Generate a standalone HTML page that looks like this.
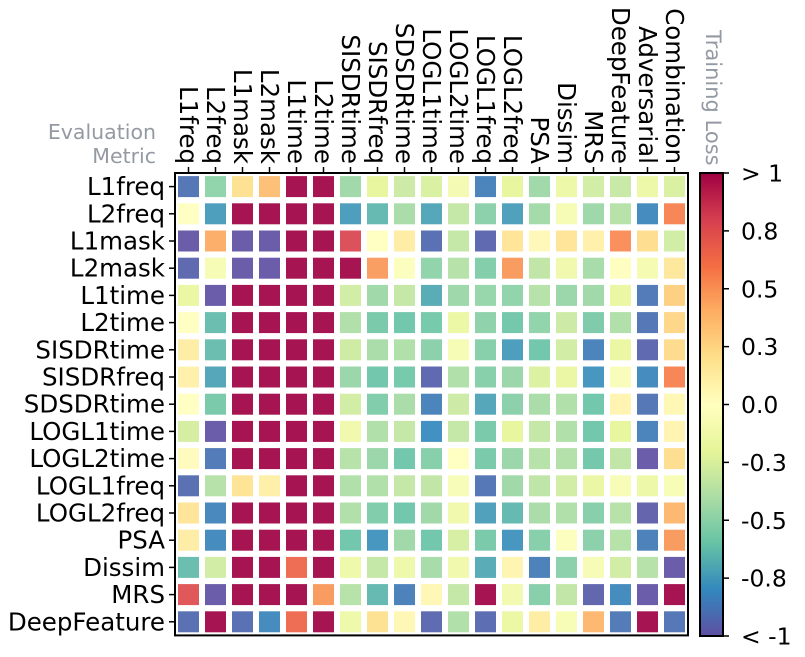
<!DOCTYPE html>
<html><head><meta charset="utf-8"><style>
body{margin:0;background:#fff;}
svg{display:block;font-family:"DejaVu Sans","Liberation Sans",sans-serif;}
</style></head><body>
<svg id="chart" width="805" height="657" viewBox="0 0 805 657" xmlns="http://www.w3.org/2000/svg">
<defs><linearGradient id="cbgrad" x1="0" y1="1" x2="0" y2="0"></linearGradient></defs>
<g id="cells"></g>
<g id="axes"></g>
<text x="156" y="139" text-anchor="end" font-size="20.5" fill="#949aa4">Evaluation</text>
<text x="156" y="163" text-anchor="end" font-size="20.5" fill="#949aa4">Metric</text>
<text transform="translate(706,30) rotate(90)" font-size="21" fill="#949aa4">Training Loss</text>
</svg>
<script>
const rowLabels = ["L1freq","L2freq","L1mask","L2mask","L1time","L2time","SISDRtime","SISDRfreq","SDSDRtime","LOGL1time","LOGL2time","LOGL1freq","LOGL2freq","PSA","Dissim","MRS","DeepFeature"];
const colLabels = ["L1freq","L2freq","L1mask","L2mask","L1time","L2time","SISDRtime","SISDRfreq","SDSDRtime","LOGL1time","LOGL2time","LOGL1freq","LOGL2freq","PSA","Dissim","MRS","DeepFeature","Adversarial","Combination"];
const cbTickLabels = ["> 1","0.8","0.5","0.3","0.0","-0.3","-0.5","-0.8","< -1"];
const cbTickValues = [1,0.75,0.5,0.25,0,-0.25,-0.5,-0.75,-1];
const values = [
[-0.9,-0.5,0.2,0.35,1,1,-0.45,-0.2,-0.3,-0.25,-0.1,-0.85,-0.2,-0.45,-0.15,-0.28,-0.32,-0.15,-0.25],
[0,-0.75,1,1,1,1,-0.75,-0.65,-0.42,-0.72,-0.33,-0.52,-0.74,-0.44,-0.08,-0.46,-0.38,-0.82,0.55],
[-1,0.42,-1,-1,1,1,0.78,0,0.12,-0.92,-0.33,-0.95,0.18,0.05,0.18,0.1,0.52,0.22,-0.28],
[-0.95,-0.08,-1,-1,1,1,1,0.47,-0.03,-0.5,-0.38,-0.54,0.48,-0.34,-0.12,-0.43,-0.02,-0.09,0.16],
[-0.18,-1,1,1,1,1,-0.28,-0.45,-0.33,-0.7,-0.46,-0.48,-0.5,-0.38,-0.47,-0.45,-0.18,-0.88,0.28],
[0,-0.63,1,1,1,1,-0.4,-0.57,-0.6,-0.58,-0.17,-0.51,-0.59,-0.5,-0.3,-0.56,-0.4,-0.9,0.25],
[0.12,-0.63,1,1,1,1,-0.29,-0.42,-0.4,-0.52,-0.08,-0.53,-0.75,-0.6,-0.28,-0.85,-0.18,-0.95,0.23],
[0.1,-0.72,1,1,1,1,-0.47,-0.6,-0.58,-0.95,-0.4,-0.53,-0.47,-0.24,-0.18,-0.78,-0.05,-0.82,0.55],
[0,-0.57,1,1,1,1,-0.28,-0.55,-0.42,-0.85,-0.3,-0.72,-0.52,-0.42,-0.4,-0.6,0.08,-0.9,0.06],
[-0.27,-1,1,1,1,1,-0.13,-0.4,-0.33,-0.8,-0.33,-0.57,-0.2,-0.33,-0.4,-0.6,-0.2,-0.85,0.08],
[0.03,-0.88,1,1,1,1,-0.38,-0.47,-0.6,-0.53,0,-0.57,-0.47,-0.38,-0.39,-0.59,-0.34,-1,0.22],
[-0.92,-0.38,0.19,0.11,1,1,-0.4,-0.4,-0.33,-0.34,-0.06,-0.9,-0.45,-0.35,-0.28,-0.18,-0.06,-0.15,-0.07],
[0.18,-0.83,1,1,1,1,-0.4,-0.55,-0.6,-0.45,-0.13,-0.74,-0.65,-0.42,-0.4,-0.53,-0.38,-0.97,0.38],
[0.12,-0.82,1,1,1,1,-0.6,-0.78,-0.45,-0.6,-0.26,-0.57,-0.78,-0.53,-0.03,-0.52,-0.38,-0.86,0.48],
[-0.63,-0.28,1,1,0.65,1,-0.14,-0.33,-0.14,-0.43,-0.13,-0.7,0.07,-0.86,-0.52,-0.08,-0.28,-0.38,-1],
[0.75,-1,1,1,1,0.48,-0.38,-0.65,-0.86,0.06,-0.33,1,-0.11,-0.53,-0.34,-0.96,-0.82,-1,1],
[-0.92,1,-0.92,-0.82,0.65,1,-0.14,0.2,0.06,-0.94,-0.4,-0.93,-0.16,0.13,-0.07,0.38,-0.88,1,-0.9]
];
const SP = ["#9e0142","#d53e4f","#f46d43","#fdae61","#fee08b","#ffffbf","#e6f598","#abdda4","#66c2a5","#3288bd","#5e4fa2"];
function hex(h){return [1,3,5].map(i=>parseInt(h.substr(i,2),16));}
function color(v){
  v=Math.max(-1,Math.min(1,v));
  const t=(1-v)/2*10, i=Math.min(9,Math.floor(t)), f=t-i;
  const a=hex(SP[i]), b=hex(SP[i+1]);
  return "rgb("+a.map((c,k)=>Math.round(c+(b[k]-c)*f)).join(",")+")";
}
const X0=175, Y0=173, CW=27, CH=27.2;
const xPos = c => X0 + CW*(c+0.5);
const yPos = r => Y0 + CH*(r+0.5);
const NS="http://www.w3.org/2000/svg";
const svg=document.getElementById("chart");
const cells=document.getElementById("cells");
const axes=document.getElementById("axes");
function mk(tag,attrs,parent){const e=document.createElementNS(NS,tag);for(const k in attrs)e.setAttribute(k,attrs[k]);parent.appendChild(e);return e;}
values.forEach((row,r)=>row.forEach((v,c)=>{
  const e=mk("rect",{x:xPos(c)-10.5,y:yPos(r)-10.5,width:21,height:21,fill:color(v),"fill-opacity":0.92},cells);
  
  
}));
const frame=mk("rect",{x:X0,y:Y0,width:CW*colLabels.length,height:CH*rowLabels.length,fill:"none",stroke:"#000","stroke-width":2},axes);


rowLabels.forEach((l,r)=>{
  mk("line",{x1:X0-6,x2:X0,y1:yPos(r),y2:yPos(r),stroke:"#000","stroke-width":1.5},axes);
  const t=mk("text",{x:X0-10,y:yPos(r)+8.5,"text-anchor":"end","font-size":24.5,fill:"#000"},axes);
  t.textContent=l;
  
  
});
colLabels.forEach((l,c)=>{
  mk("line",{x1:xPos(c),x2:xPos(c),y1:Y0-6,y2:Y0,stroke:"#000","stroke-width":1.5},axes);
  const t=mk("text",{transform:"translate("+(xPos(c)-8.5)+","+(Y0-9)+") rotate(90)","text-anchor":"end","font-size":24.5,fill:"#000"},axes);
  t.textContent=l;
  
  
});
const grad=document.getElementById("cbgrad");
for(let i=0;i<=20;i++){const v=-1+i/10;mk("stop",{offset:(i/20),"stop-color":color(v)},grad);}
const CBX=700, CBW=23, CBT=173, CBB=636;
const cbY = v => CBB - (v+1)/2*(CBB-CBT);
const cb=mk("rect",{x:CBX,y:CBT,width:CBW,height:CBB-CBT,fill:"url(#cbgrad)",stroke:"#000","stroke-width":2},svg);


cbTickValues.forEach((v,i)=>{
  mk("line",{x1:CBX+CBW,x2:CBX+CBW+6,y1:cbY(v),y2:cbY(v),stroke:"#000","stroke-width":1.5},svg);
  const t=mk("text",{x:CBX+CBW+18,y:cbY(v)+8.5,"font-size":23.5,fill:"#000"},svg);
  t.textContent=cbTickLabels[i];
  
  
});
</script>
</body></html>
